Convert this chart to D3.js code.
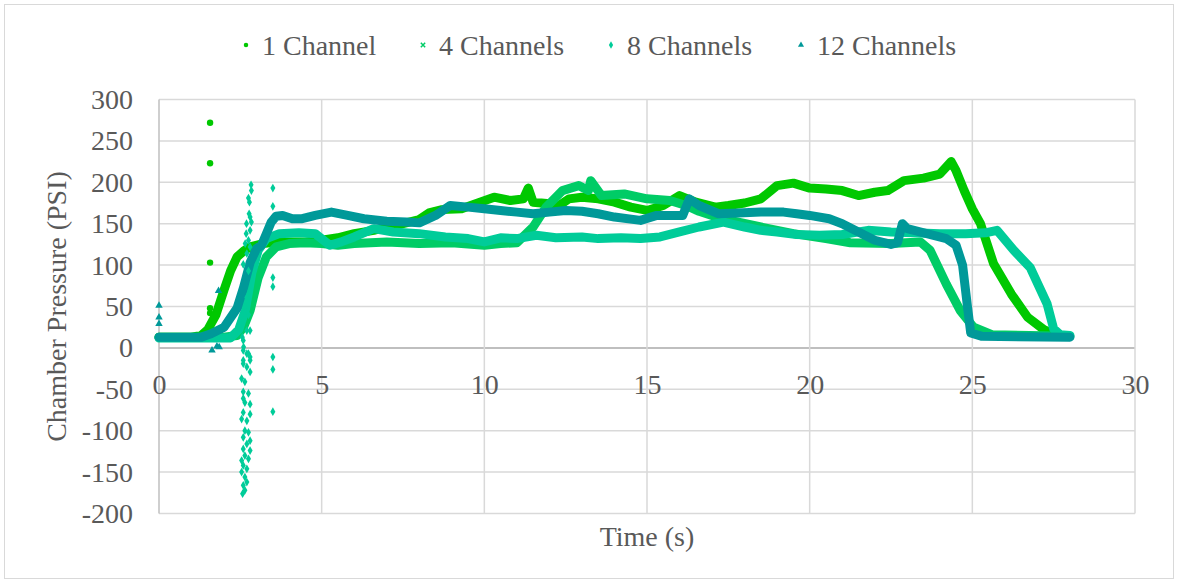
<!DOCTYPE html>
<html>
<head>
<meta charset="utf-8">
<script src="https://cdn.jsdelivr.net/npm/d3@7"></script>
<style>
	body { margin: 0; background: #fff; }
</style>
</head>
<body>
<div id="chart"></div>
<script>
const seriesNames = ["1 Channel", "4 Channels", "8 Channels", "12 Channels"];
const seriesColors = ["#00C800", "#00CC66", "#00CC99", "#009999"];
const xTicks = [0, 5, 10, 15, 20, 25, 30];
const yTicks = [-200, -150, -100, -50, 0, 50, 100, 150, 200, 250, 300];

// [time (s), pressure (PSI)]
const oneChannel = [
	[0, 13], [1.0, 13], [1.3, 15], [1.5, 22], [1.75, 40], [2.0, 70], [2.2, 93], [2.4, 110],
	[2.6, 117], [2.8, 122], [3.2, 126], [3.6, 128], [4.5, 128], [5.0, 130], [5.5, 133],
	[6.0, 138], [6.6, 142], [7.0, 146], [7.5, 150], [8.0, 155], [8.3, 163], [8.7, 167],
	[9.3, 168], [9.8, 175], [10.3, 182], [10.8, 178], [11.2, 180], [11.35, 193], [11.5, 176],
	[12.0, 174], [12.3, 172], [12.6, 180], [13.0, 182], [13.5, 180], [14.0, 176], [14.5, 170],
	[15.0, 166], [15.5, 172], [16.0, 184], [16.5, 176], [17.1, 170], [17.5, 172], [18.0, 175],
	[18.5, 180], [19.0, 196], [19.5, 199], [20.0, 193], [20.5, 192], [21.0, 190], [21.5, 184],
	[22.0, 188], [22.4, 190], [22.9, 202], [23.5, 205], [24.0, 210], [24.35, 225], [24.5, 214],
	[24.75, 190], [25.0, 168], [25.25, 150], [25.65, 102], [26.2, 65], [26.7, 37], [27.2, 22],
	[27.6, 15]
];
const fourChannels = [
	[0, 13], [2.0, 13], [2.4, 15], [2.6, 25], [2.8, 45], [3.05, 85], [3.3, 110], [3.6, 122],
	[4.0, 126], [4.5, 127], [5.0, 126], [5.5, 124], [6.0, 126], [7.0, 128], [8.0, 126],
	[9.0, 127], [10.0, 124], [10.5, 126], [11.0, 127], [11.5, 146], [11.9, 170], [12.4, 190],
	[12.9, 196], [13.2, 190], [13.27, 202], [13.6, 184], [14.3, 186], [15.0, 180], [15.7, 178],
	[16.2, 172], [16.6, 165], [17.3, 156], [18.5, 146], [19.5, 138], [20.5, 132], [21.25, 127],
	[22.5, 126], [23.4, 128], [23.7, 118], [24.2, 77], [24.63, 45], [25.04, 25], [25.6, 16],
	[28.0, 14]
];
const eightChannels = [
	[0, 12], [2.2, 12], [2.45, 22], [2.65, 45], [2.85, 90], [3.05, 118], [3.3, 132], [3.7, 138],
	[4.3, 139], [4.8, 138], [5.25, 124], [5.6, 128], [6.0, 134], [6.6, 144], [7.2, 140],
	[8.0, 138], [8.8, 134], [9.5, 132], [10.0, 128], [10.5, 133], [11.0, 132], [11.6, 136],
	[12.2, 133], [13.0, 134], [13.5, 132], [14.2, 133], [14.8, 132], [15.4, 134], [16.0, 140],
	[16.6, 146], [17.35, 152], [18.0, 146], [18.5, 142], [19.0, 140], [19.6, 137], [20.3, 136],
	[21.0, 137], [21.8, 142], [22.5, 140], [23.2, 139], [24.0, 138], [24.8, 138], [25.4, 139],
	[25.76, 142], [26.27, 118], [26.78, 97], [27.3, 53], [27.5, 23], [27.7, 16], [28.0, 15]
];
const twelveChannels = [
	[0, 13], [1.3, 13], [1.6, 17], [2.0, 25], [2.4, 48], [2.6, 73], [2.8, 103], [3.0, 120],
	[3.15, 124], [3.3, 138], [3.45, 152], [3.6, 159], [3.8, 160], [4.1, 156], [4.4, 156],
	[4.8, 160], [5.3, 164], [5.8, 160], [6.3, 156], [7.0, 153], [7.6, 152], [8.0, 151],
	[8.5, 160], [8.95, 172], [9.5, 170], [10.0, 168], [10.5, 166], [11.0, 164], [11.5, 162],
	[12.0, 164], [12.5, 166], [13.0, 165], [13.5, 162], [14.0, 158], [14.8, 154], [15.3, 160],
	[15.7, 160], [16.1, 160], [16.3, 180], [16.6, 172], [17.2, 162], [17.8, 163], [18.5, 164],
	[19.2, 164], [19.6, 162], [20.0, 160], [20.6, 156], [21.0, 150], [21.5, 140], [22.0, 130],
	[22.5, 125], [22.7, 127], [22.85, 150], [23.0, 144], [23.6, 138], [24.2, 132], [24.5, 124],
	[24.7, 100], [24.85, 50], [24.95, 18], [25.3, 14], [28.0, 13]
];

// stray readings
const oneChannelStray = [[1.57, 272], [1.57, 223], [1.57, 103], [1.57, 48], [1.57, 42]];
const twelveChannelsStray = [[0, 51], [0, 37], [0, 29], [1.63, -3], [1.78, 2], [1.85, 1], [1.83, 69]];
const eightChannelsStray = [
	[2.83, 197], [2.84, 190], [2.75, 181], [2.78, 176], [2.77, 162], [2.8, 158], [2.69, 150],
	[2.84, 152], [2.8, 142], [2.68, 138], [2.75, 130], [2.65, 126], [2.8, 122], [2.7, 114],
	[2.59, 101], [2.75, 93], [2.8, 69], [2.7, 61], [2.65, 49], [2.75, 40], [2.6, 33], [2.7, 21],
	[2.56, 13], [2.6, 1], [2.7, -7], [2.8, -15], [2.8, 21], [2.59, 9], [2.59, -3], [2.75, -7],
	[2.59, -15], [2.59, -19], [2.8, -11], [2.7, -23], [2.8, -29], [2.54, -37], [2.64, -41],
	[2.59, -53], [2.75, -55], [2.59, -61], [2.64, -66], [2.8, -68], [2.59, -78], [2.8, -80],
	[2.54, -86], [2.7, -88], [2.64, -100], [2.75, -102], [2.59, -108], [2.8, -112], [2.7, -116],
	[2.59, -122], [2.8, -124], [2.64, -130], [2.54, -136], [2.75, -134], [2.59, -142],
	[2.7, -146], [2.54, -150], [2.64, -156], [2.7, -162], [2.59, -166], [2.64, -172], [2.57, -176],
	[3.5, 193], [3.5, 171], [3.5, 85], [3.5, 74], [3.5, -11], [3.5, -26], [3.5, -77]
];

const width = 1178;
const height = 583;
const serif = "'Liberation Serif', 'Times New Roman', serif";
const textColor = "#595959";

const x = d3.scaleLinear().domain([0, 30]).range([159, 1135]);
const y = d3.scaleLinear().domain([-200, 300]).range([513.5, 99.5]);

const svg = d3.select("#chart").append("svg")
	.attr("width", width)
	.attr("height", height);

svg.append("rect")
	.attr("x", 4.5).attr("y", 4.5)
	.attr("width", width - 9).attr("height", height - 9)
	.attr("fill", "#fff")
	.attr("stroke", "#D9D9D9");

drawGrid();
drawAxes();
drawSeries();
drawLegend();

function drawGrid() {
	svg.append("g").selectAll("line")
		.data(yTicks)
		.join("line")
		.attr("x1", x(0)).attr("x2", x(30))
		.attr("y1", d => y(d)).attr("y2", d => y(d))
		.attr("stroke", d => d === 0 ? "#BFBFBF" : "#D9D9D9")
		.attr("stroke-width", d => d === 0 ? 2 : 1.5);

	svg.append("g").selectAll("line")
		.data(xTicks)
		.join("line")
		.attr("x1", d => x(d)).attr("x2", d => x(d))
		.attr("y1", y(300)).attr("y2", y(-200))
		.attr("stroke", d => d === 0 ? "#BFBFBF" : "#D9D9D9")
		.attr("stroke-width", 1.5);
}

function styleText(sel) {
	sel.style("font-family", serif)
		.style("font-size", "28px")
		.style("fill", textColor);
}

function drawAxes() {
	// plain hyphen for negatives, like the original
	const fmt = d => String(d);

	const yAxis = svg.append("g")
		.attr("transform", `translate(${x(0)},0)`)
		.call(d3.axisLeft(y).tickValues(yTicks).tickSize(0).tickPadding(26).tickFormat(fmt));
	yAxis.select(".domain").remove();
	styleText(yAxis.selectAll("text"));

	const xAxis = svg.append("g")
		.attr("transform", `translate(0,${y(0)})`)
		.call(d3.axisBottom(x).tickValues(xTicks).tickSize(0).tickPadding(26).tickFormat(fmt));
	xAxis.select(".domain").remove();
	styleText(xAxis.selectAll("text"));

	svg.append("text")
		.attr("transform", `translate(66,${(y(300) + y(-200)) / 2}) rotate(-90)`)
		.attr("text-anchor", "middle")
		.text("Chamber Pressure (PSI)")
		.call(styleText);

	svg.append("text")
		.attr("x", (x(0) + x(30)) / 2)
		.attr("y", 546)
		.attr("text-anchor", "middle")
		.text("Time (s)")
		.call(styleText);
}

function drawSeries() {
	const line = d3.line()
		.x(d => x(d[0]))
		.y(d => y(d[1]));

	const all = [oneChannel, fourChannels, eightChannels, twelveChannels];
	all.forEach((data, i) => {
		svg.append("path")
			.datum(data)
			.attr("d", line)
			.attr("fill", "none")
			.attr("stroke", seriesColors[i])
			.attr("stroke-width", 9)
			.attr("stroke-linejoin", "round")
			.attr("stroke-linecap", "round");
	});

	svg.append("g").selectAll("circle")
		.data(oneChannelStray)
		.join("circle")
		.attr("cx", d => x(d[0])).attr("cy", d => y(d[1]))
		.attr("r", 3.2)
		.attr("fill", seriesColors[0]);

	svg.append("g").selectAll("path")
		.data(eightChannelsStray)
		.join("path")
		.attr("transform", d => `translate(${x(d[0])},${y(d[1])})`)
		.attr("d", d3.symbol(d3.symbolDiamond, 22))
		.attr("fill", seriesColors[2]);

	svg.append("g").selectAll("path")
		.data(twelveChannelsStray)
		.join("path")
		.attr("transform", d => `translate(${x(d[0])},${y(d[1])})`)
		.attr("d", d3.symbol(d3.symbolTriangle, 24))
		.attr("fill", seriesColors[3]);
}

function drawLegend() {
	const symbols = [d3.symbolCircle, d3.symbolX, d3.symbolDiamond, d3.symbolTriangle];
	const markerX = [246, 423, 611, 801];
	const legend = svg.append("g").attr("class", "legend");

	seriesNames.forEach((name, i) => {
		const sym = d3.symbol(symbols[i], i === 1 ? 14 : 16);
		legend.append("path")
			.attr("transform", `translate(${markerX[i]},45)`)
			.attr("d", sym)
			.attr("fill", i === 1 ? "none" : seriesColors[i])
			.attr("stroke", i === 1 ? seriesColors[i] : "none")
			.attr("stroke-width", 1.5);
		legend.append("text")
			.attr("x", markerX[i] + 16)
			.attr("y", 55)
			.text(name)
			.call(styleText);
	});
}
</script>
</body>
</html>
